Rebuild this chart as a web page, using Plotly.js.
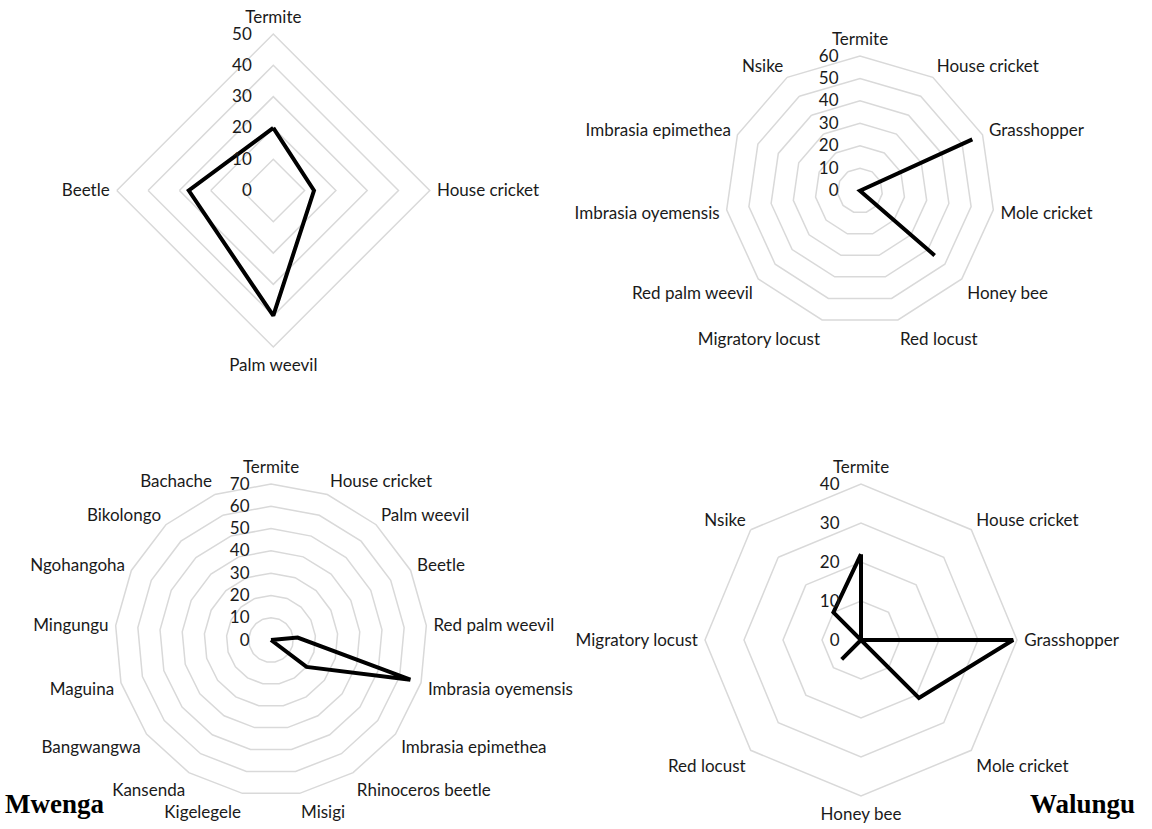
<!DOCTYPE html>
<html>
<head>
<meta charset="utf-8">
<script src="https://cdn.plot.ly/plotly-3.0.1.min.js"></script>
<style>
  html, body { margin: 0; padding: 0; background: #fff; }
  #chart { width: 1152px; height: 829px; }
</style>
</head>
<body>
<div id="chart"></div>
<script>
// ---- Data ----
var cats1 = ['Termite', 'House cricket', 'Palm weevil', 'Beetle'];
var vals1 = [20, 13, 40, 27];

var cats2 = ['Termite', 'House cricket', 'Grasshopper', 'Mole cricket', 'Honey bee', 'Red locust',
             'Migratory locust', 'Red palm weevil', 'Imbrasia oyemensis', 'Imbrasia epimethea', 'Nsike'];
var vals2 = [0, 0, 55, 0, 44, 0, 0, 0, 0, 0, 0];

var cats3 = ['Termite', 'House cricket', 'Palm weevil', 'Beetle', 'Red palm weevil', 'Imbrasia oyemensis',
             'Imbrasia epimethea', 'Rhinoceros beetle', 'Misigi', 'Kigelegele', 'Kansenda', 'Bangwangwa',
             'Maguina', 'Mingungu', 'Ngohangoha', 'Bikolongo', 'Bachache'];
var vals3 = [0, 0, 0, 0, 12, 65, 20, 0, 0, 0, 0, 0, 0, 0, 0, 0, 0];

var cats4 = ['Termite', 'House cricket', 'Grasshopper', 'Mole cricket', 'Honey bee', 'Red locust',
             'Migratory locust', 'Nsike'];
var vals4 = [22, 0, 39, 21, 0, 7, 0, 10];

var rMax = [50, 60, 70, 40];
var siteLabels = ['Mwenga', 'Walungu'];

// ---- Build ----
var W = 1152, H = 829;
function dom(cx, cy, r) {
  return { x: [(cx - r) / W, (cx + r) / W], y: [1 - (cy + r) / H, 1 - (cy - r) / H] };
}
var FONT = 'Lato, "Open Sans", sans-serif';
var TXT = '#1a1a1a';
var GRID = '#d9d9d9';

function polarLayout(d, cats, rmax) {
  return {
    domain: d,
    bgcolor: 'rgba(0,0,0,0)',
    gridshape: 'linear',
    radialaxis: {
      range: [0, rmax], dtick: 10, tick0: 0, angle: 90, tickangle: 90,
      side: 'counterclockwise',
      showline: false, ticks: 'outside', ticklen: 15, tickcolor: 'rgba(0,0,0,0)',
      showgrid: true, gridcolor: GRID, gridwidth: 1.5,
      tickfont: { family: FONT, size: 17, color: TXT }
    },
    angularaxis: {
      type: 'category', categoryorder: 'array', categoryarray: cats,
      direction: 'clockwise', rotation: 90,
      showgrid: false, showline: true, linecolor: GRID, linewidth: 1.5,
      ticks: 'outside', ticklen: 3, tickcolor: 'rgba(0,0,0,0)',
      tickfont: { family: FONT, size: 17, color: TXT }
    }
  };
}
function closed(a) { return a.concat([a[0]]); }
function trace(cats, vals, sub) {
  return {
    type: 'scatterpolar', mode: 'lines', subplot: sub,
    theta: closed(cats), r: closed(vals),
    line: { color: '#000000', width: 4 },
    hoverinfo: 'skip', showlegend: false
  };
}

var data = [
  trace(cats1, vals1, 'polar'),
  trace(cats2, vals2, 'polar2'),
  trace(cats3, vals3, 'polar3'),
  trace(cats4, vals4, 'polar4')
];

var layout = {
  width: W, height: H,
  margin: { l: 0, r: 0, t: 0, b: 0 },
  paper_bgcolor: '#ffffff',
  showlegend: false,
  polar: polarLayout(dom(273.3, 190.5, 156.5), cats1, rMax[0]),
  polar2: polarLayout(dom(860, 190.7, 134.7), cats2, rMax[1]),
  polar3: polarLayout(dom(271, 640, 156), cats3, rMax[2]),
  polar4: polarLayout(dom(861, 640, 156), cats4, rMax[3]),
  annotations: [
    { text: '<b>' + siteLabels[0] + '</b>', xref: 'paper', yref: 'paper', x: 3 / W, y: 1 - 804 / H,
      xanchor: 'left', yanchor: 'middle', showarrow: false,
      font: { family: '"Liberation Serif", "Times New Roman", serif', size: 27, color: '#000' } },
    { text: '<b>' + siteLabels[1] + '</b>', xref: 'paper', yref: 'paper', x: 1028 / W, y: 1 - 804 / H,
      xanchor: 'left', yanchor: 'middle', showarrow: false,
      font: { family: '"Liberation Serif", "Times New Roman", serif', size: 27, color: '#000' } }
  ]
};

Plotly.newPlot('chart', data, layout, { displayModeBar: false, staticPlot: true });
</script>
</body>
</html>
